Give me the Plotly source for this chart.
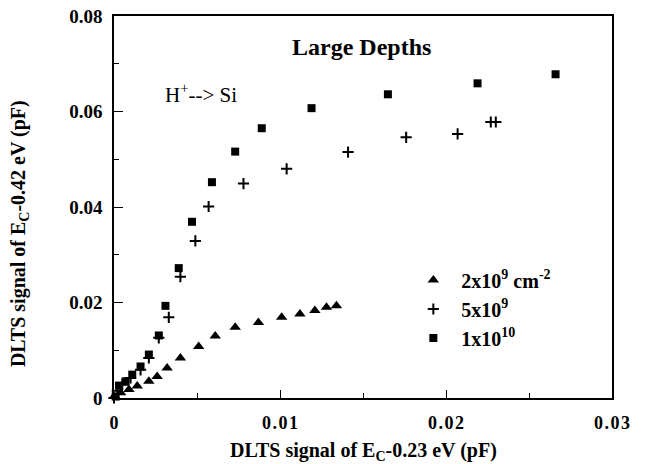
import plotly.graph_objects as go

# DLTS signal of Ec-0.23 eV (x) vs Ec-0.42 eV (y), large depths, H+ implanted Si
tri_x = [0.0000, 0.0004, 0.0009, 0.0014, 0.0021, 0.0026, 0.0032, 0.0040, 0.0051,
         0.0061, 0.0073, 0.0087, 0.0101, 0.0112, 0.0121, 0.0128, 0.0134]
tri_y = [0.0003, 0.0011, 0.0018, 0.0025, 0.0035, 0.0045, 0.0063, 0.0084, 0.0108,
         0.0130, 0.0148, 0.0158, 0.0169, 0.0176, 0.0183, 0.0190, 0.0193]

cross_x = [0.0000, 0.0002, 0.0005, 0.0010, 0.0016, 0.0021, 0.0027, 0.0033, 0.0040,
           0.0049, 0.0057, 0.0078, 0.0104, 0.0141, 0.0176, 0.0207, 0.0227, 0.0230]
cross_y = [0.0000, 0.0015, 0.0028, 0.0042, 0.0059, 0.0084, 0.0126, 0.0169, 0.0254,
           0.0329, 0.0401, 0.0449, 0.0480, 0.0515, 0.0546, 0.0553, 0.0578, 0.0578]

sq_x = [0.0001, 0.0003, 0.0007, 0.0011, 0.0016, 0.0021, 0.0027, 0.0031, 0.0039,
        0.0047, 0.0059, 0.0073, 0.0089, 0.0119, 0.0165, 0.0219, 0.0266]
sq_y = [0.0003, 0.0026, 0.0035, 0.0049, 0.0066, 0.0091, 0.0131, 0.0193, 0.0272,
        0.0369, 0.0452, 0.0516, 0.0565, 0.0607, 0.0636, 0.0659, 0.0678]

names = ["2x10<sup>9</sup> cm<sup>-2</sup>", "5x10<sup>9</sup>", "1x10<sup>10</sup>"]

x_ticks = [0, 0.01, 0.02, 0.03]
x_tick_text = ["0", "0.01", "0.02", "0.03"]
y_ticks = [0, 0.02, 0.04, 0.06, 0.08]
y_tick_text = ["0", "0.02", "0.04", "0.06", "0.08"]

SERIF = "Liberation Serif, Times New Roman, serif"
HAIR = "\u200a"

fig = go.Figure()
fig.add_trace(go.Scatter(x=tri_x, y=tri_y, mode="markers", name=names[0],
                         marker=dict(symbol="triangle-up", size=10, color="black"),
                         cliponaxis=False))
fig.add_trace(go.Scatter(x=cross_x, y=cross_y, mode="markers", name=names[1],
                         marker=dict(symbol="cross-thin", size=8,
                                     line=dict(color="black", width=2)),
                         cliponaxis=False))
fig.add_trace(go.Scatter(x=sq_x, y=sq_y, mode="markers", name=names[2],
                         marker=dict(symbol="square", size=8, color="black"),
                         cliponaxis=False))

axis_common = dict(
    showgrid=False, zeroline=False, showline=True, linecolor="black", linewidth=1.5,
    mirror=True, ticks="inside", tickcolor="black", tickwidth=1.3,
)

fig.update_xaxes(
    range=[0, 0.03], tickvals=x_ticks,
    ticktext=[HAIR.join(t) for t in x_tick_text],
    ticklen=8, ticklabelstandoff=8,
    minor=dict(dtick=0.005, ticks="inside", ticklen=5, tickcolor="black", tickwidth=1.3),
    tickfont=dict(family=SERIF, size=18, color="black", weight="bold"),
    **axis_common,
)
fig.update_yaxes(
    range=[0, 0.08], tickvals=y_ticks, ticktext=y_tick_text,
    ticklen=9, ticklabelstandoff=6,
    minor=dict(dtick=0.01, ticks="inside", ticklen=5, tickcolor="black", tickwidth=1.3),
    tickfont=dict(family=SERIF, size=19, color="black", weight="bold"),
    **axis_common,
)

# axis titles placed as free text beside the tick labels
fig.add_annotation(text="<b>DLTS signal of E<sub>C</sub>-0.23 eV (pF)</b>",
                   x=0.5, y=-0.139, xref="paper", yref="paper",
                   xanchor="center", yanchor="middle", showarrow=False,
                   font=dict(family=SERIF, size=20, color="black"))
fig.add_annotation(text="<b>DLTS signal of E<sub>C</sub>-0.42 eV (pF)</b>",
                   x=-0.19, y=0.43, xref="paper", yref="paper", textangle=-90,
                   xanchor="center", yanchor="middle", showarrow=False,
                   font=dict(family=SERIF, size=20, color="black"))
fig.add_annotation(text="<b>Large Depths</b>", x=0.497, y=0.919, xref="paper", yref="paper",
                   xanchor="center", yanchor="middle", showarrow=False,
                   font=dict(family=SERIF, size=24, color="black"))
fig.add_annotation(text="H<sup>+</sup>--> Si", x=0.098, y=0.797, xref="paper", yref="paper",
                   xanchor="left", yanchor="middle", showarrow=False,
                   font=dict(family=SERIF, size=21, color="black"))

fig.update_layout(
    width=645, height=464,
    margin=dict(l=114, r=33, t=16, b=66, autoexpand=False),
    paper_bgcolor="white", plot_bgcolor="white",
    showlegend=True,
    legend=dict(x=0.585, y=0.36, xanchor="left", yanchor="top",
                bgcolor="rgba(0,0,0,0)", borderwidth=0, itemwidth=46,
                font=dict(family=SERIF, size=20, color="black", weight="bold")),
)

fig.write_html("out.html")
